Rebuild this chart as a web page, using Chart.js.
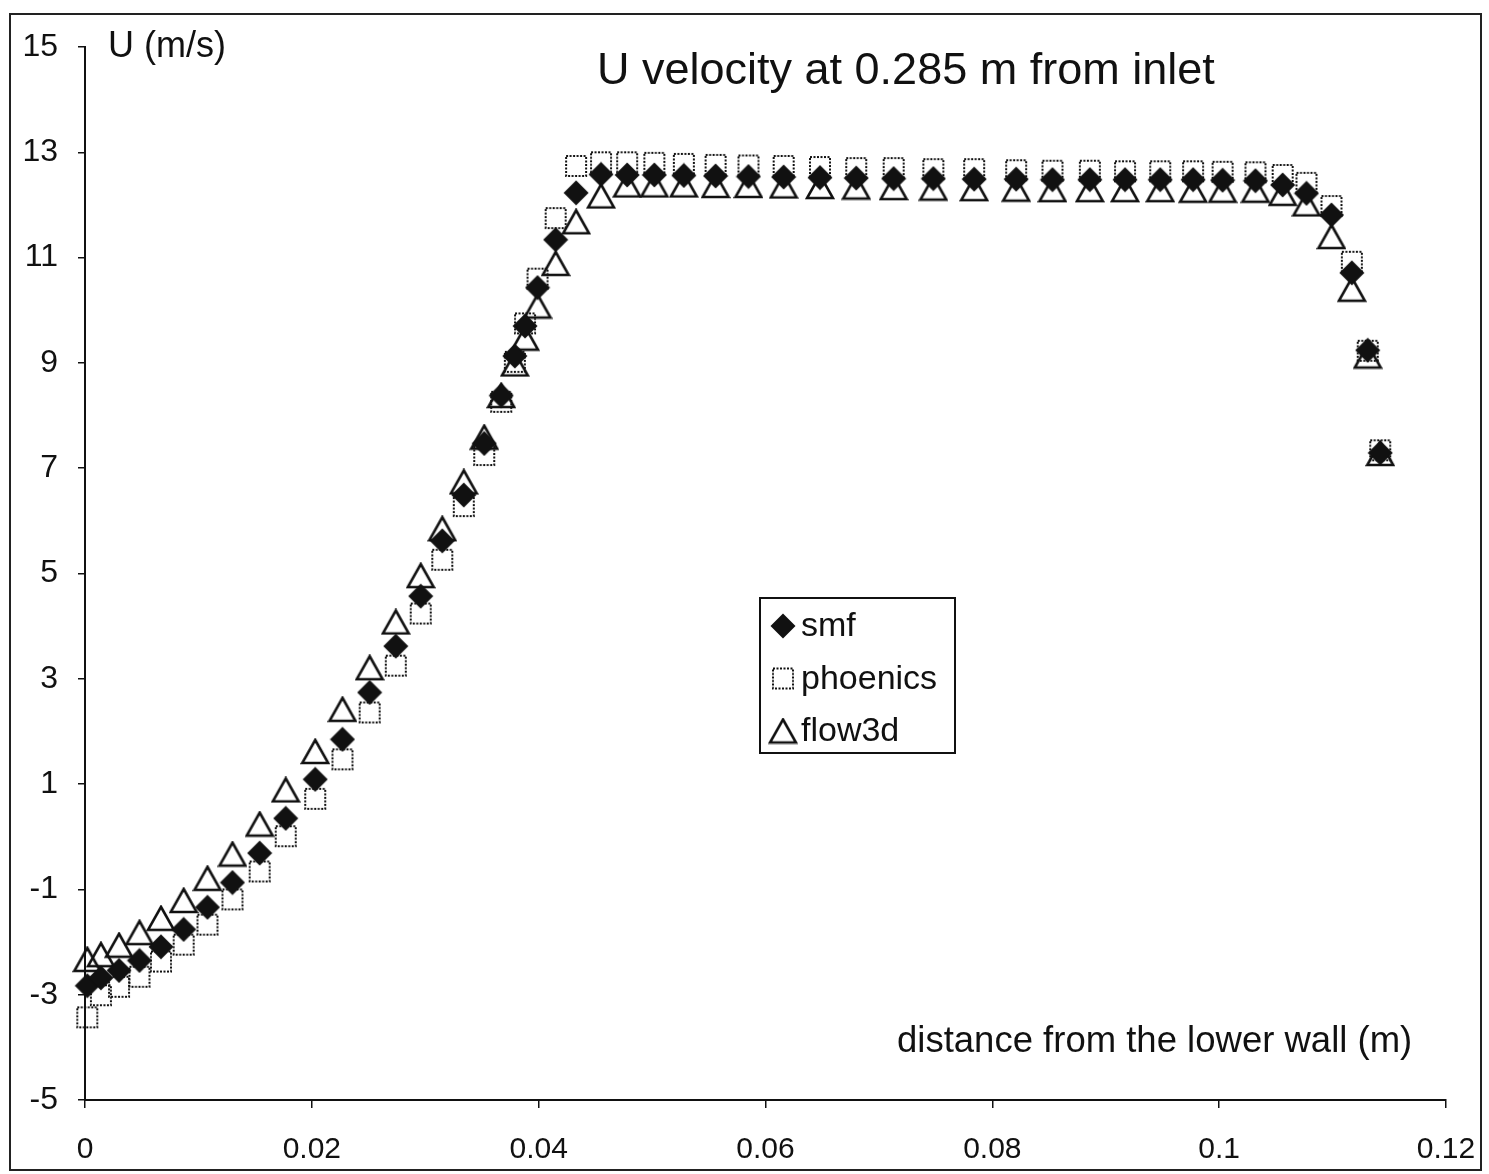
<!DOCTYPE html>
<html>
<head>
<meta charset="utf-8">
<script src="https://cdn.jsdelivr.net/npm/chart.js@4.4.1/dist/chart.umd.min.js"></script>
<style>
  html, body { margin: 0; padding: 0; background: #fff; }
  #wrap { width: 1489px; height: 1174px; }
</style>
</head>
<body>
<div id="wrap"><canvas id="uChart" width="1489" height="1174"></canvas></div>
<script>
// distance from the lower wall (m)
const distance = [
  0.0002, 0.0014, 0.0030, 0.0048, 0.0067, 0.0087, 0.0108, 0.0130, 0.0154, 0.0177,
  0.0203, 0.0227, 0.0251, 0.0274, 0.0296, 0.0315, 0.0334, 0.0352, 0.0367, 0.0379,
  0.0388, 0.0399, 0.0415, 0.0433, 0.0455, 0.0478, 0.0502, 0.0528, 0.0556, 0.0585,
  0.0616, 0.0648, 0.0680, 0.0713, 0.0748, 0.0784, 0.0821, 0.0853, 0.0886, 0.0917,
  0.0948, 0.0977, 0.1003, 0.1032, 0.1056, 0.1077, 0.1099, 0.1117, 0.1131, 0.1142
];

// U velocity (m/s)
const smfU = [
  -2.83, -2.68, -2.54, -2.35, -2.09, -1.76, -1.34, -0.87, -0.31, 0.35,
  1.09, 1.85, 2.74, 3.62, 4.57, 5.62, 6.49, 7.47, 8.38, 9.13,
  9.70, 10.43, 11.34, 12.23, 12.58, 12.57, 12.57, 12.56, 12.55, 12.54,
  12.53, 12.52, 12.51, 12.50, 12.50, 12.49, 12.49, 12.48, 12.48, 12.48,
  12.48, 12.48, 12.47, 12.46, 12.38, 12.22, 11.81, 10.71, 9.24, 7.29
];
const phoenicsU = [
  -3.43, -3.01, -2.85, -2.66, -2.37, -2.05, -1.67, -1.19, -0.66, 0.01,
  0.72, 1.47, 2.36, 3.25, 4.24, 5.26, 6.28, 7.25, 8.26, 9.02,
  9.75, 10.60, 11.75, 12.74, 12.81, 12.81, 12.80, 12.78, 12.76, 12.75,
  12.74, 12.72, 12.70, 12.70, 12.68, 12.68, 12.66, 12.65, 12.65, 12.64,
  12.64, 12.64, 12.63, 12.62, 12.57, 12.42, 11.98, 10.92, 9.23, 7.34
];
const flow3dU = [
  -2.33, -2.24, -2.06, -1.82, -1.55, -1.21, -0.79, -0.33, 0.24, 0.89,
  1.62, 2.42, 3.21, 4.08, 4.96, 5.85, 6.74, 7.59, 8.38, 8.98,
  9.47, 10.08, 10.89, 11.68, 12.17, 12.38, 12.38, 12.38, 12.37, 12.37,
  12.36, 12.35, 12.34, 12.33, 12.32, 12.31, 12.30, 12.29, 12.29, 12.29,
  12.29, 12.28, 12.28, 12.28, 12.22, 12.02, 11.40, 10.40, 9.13, 7.28
];

const seriesNames = ['smf', 'phoenics', 'flow3d'];
const xTicks = [0, 0.02, 0.04, 0.06, 0.08, 0.1, 0.12];
const yTicks = [-5, -3, -1, 1, 3, 5, 7, 9, 11, 13, 15];

const FONT = '"Liberation Sans", Arial, sans-serif';
const INK = '#111';

// excel-like markers, drawn once on small canvases
function diamondMarker() {
  const c = document.createElement('canvas');
  c.width = 26; c.height = 26;
  const g = c.getContext('2d');
  g.fillStyle = INK;
  g.beginPath();
  g.moveTo(13, 0.5); g.lineTo(25.5, 13); g.lineTo(13, 25.5); g.lineTo(0.5, 13);
  g.closePath();
  g.fill();
  return c;
}

function squareMarker() {
  const c = document.createElement('canvas');
  c.width = 24; c.height = 24;
  const g = c.getContext('2d');
  g.strokeStyle = INK;
  g.lineWidth = 2;
  g.setLineDash([2, 1.5]);
  g.strokeRect(2, 2, 20, 20);
  return c;
}

function triangleMarker() {
  const c = document.createElement('canvas');
  c.width = 30; c.height = 27;
  const g = c.getContext('2d');
  g.strokeStyle = INK;
  g.lineWidth = 2.6;
  g.lineJoin = 'miter';
  g.beginPath();
  g.moveTo(15, 2); g.lineTo(28, 25); g.lineTo(2, 25);
  g.closePath();
  g.stroke();
  return c;
}

const markers = [diamondMarker(), squareMarker(), triangleMarker()];
const values = [smfU, phoenicsU, flow3dU];

const decor = {
  id: 'decor',
  beforeDraw(chart) {
    const ctx = chart.ctx;
    ctx.save();
    ctx.fillStyle = '#fff';
    ctx.fillRect(0, 0, chart.width, chart.height);
    ctx.strokeStyle = '#222';
    ctx.lineWidth = 2;
    ctx.strokeRect(10, 14, 1471, 1156);
    ctx.restore();
  },
  afterDraw(chart) {
    const ctx = chart.ctx;
    ctx.save();
    ctx.fillStyle = INK;
    ctx.textBaseline = 'alphabetic';
    ctx.textAlign = 'left';

    ctx.font = '36px ' + FONT;
    ctx.fillText('U (m/s)', 108, 57);

    ctx.font = '45px ' + FONT;
    ctx.fillText('U velocity at 0.285 m from inlet', 597, 84);

    ctx.font = '36.5px ' + FONT;
    ctx.fillText('distance from the lower wall (m)', 897, 1052);

    // legend box
    ctx.fillStyle = '#fff';
    ctx.fillRect(760, 598, 195, 155);
    ctx.strokeStyle = INK;
    ctx.lineWidth = 2;
    ctx.strokeRect(760, 598, 195, 155);

    ctx.font = '34px ' + FONT;
    ctx.textBaseline = 'middle';
    chart.data.datasets.forEach((ds, i) => {
      const cy = 626 + i * 52.5;
      const m = ds.pointStyle;
      ctx.drawImage(m, 783 - m.width / 2, cy - m.height / 2);
      ctx.fillStyle = INK;
      ctx.fillText(ds.label, 801, cy + 1);
    });
    ctx.restore();
  }
};

new Chart(document.getElementById('uChart'), {
  type: 'scatter',
  data: {
    datasets: seriesNames.map((name, i) => ({
      label: name,
      data: distance.map((x, j) => ({ x: x, y: values[i][j] })),
      pointStyle: markers[i],
      pointRadius: 12,
      pointHoverRadius: 12,
      clip: false
    }))
  },
  options: {
    responsive: false,
    animation: false,
    events: [],
    layout: { padding: { top: 47, right: 43, left: 0, bottom: 0 } },
    plugins: {
      legend: { display: false },
      tooltip: { enabled: false },
      title: { display: false }
    },
    scales: {
      x: {
        type: 'linear',
        min: 0,
        max: 0.12,
        afterBuildTicks: s => { s.ticks = xTicks.map(v => ({ value: v })); },
        afterFit: s => { s.height = 74; s.paddingLeft = 0; s.paddingRight = 0; },
        ticks: {
          font: { size: 30, family: FONT }, color: INK, padding: 24,
          maxRotation: 0, autoSkip: false,
          callback: v => String(v)
        },
        grid: { drawOnChartArea: false, drawTicks: true, tickLength: 8, color: INK, lineWidth: 1.5 },
        border: { display: true, color: INK, width: 2 }
      },
      y: {
        type: 'linear',
        min: -5,
        max: 15,
        afterBuildTicks: s => { s.ticks = yTicks.map(v => ({ value: v })); },
        afterFit: s => { s.width = 85; s.paddingTop = 0; s.paddingBottom = 0; },
        ticks: {
          font: { size: 32, family: FONT }, color: INK, padding: 20,
          autoSkip: false,
          callback: v => String(v)
        },
        grid: { drawOnChartArea: false, drawTicks: true, tickLength: 7, color: INK, lineWidth: 1.5 },
        border: { display: true, color: INK, width: 2 }
      }
    }
  },
  plugins: [decor]
});
</script>
</body>
</html>
